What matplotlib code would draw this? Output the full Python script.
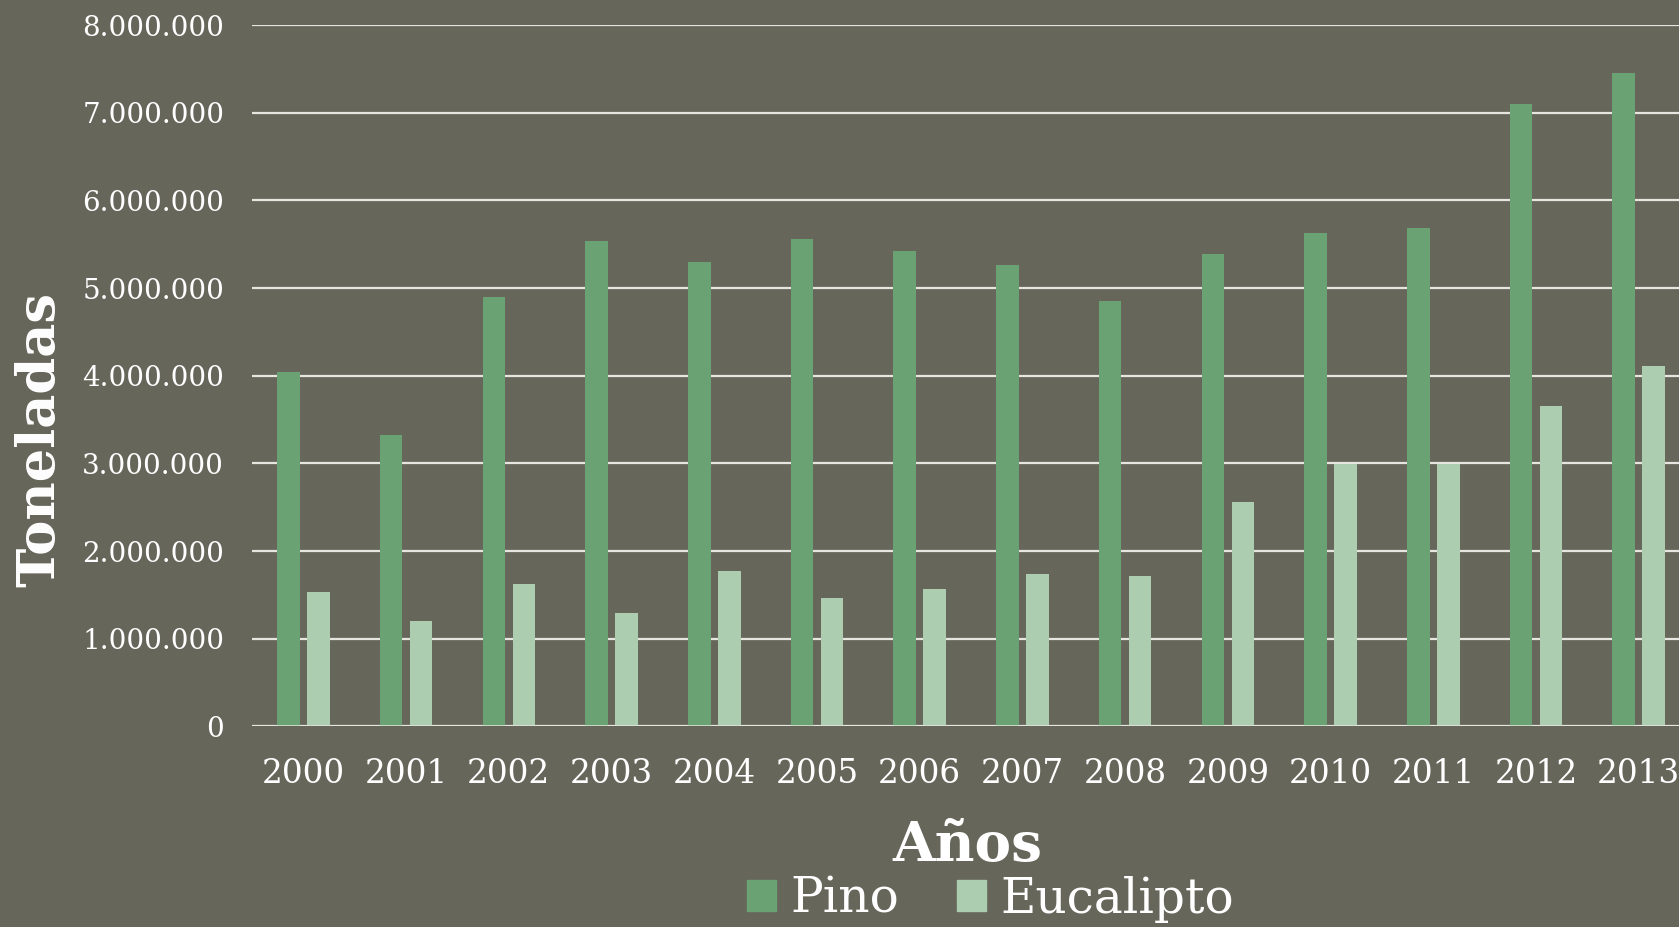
import matplotlib
matplotlib.use("Agg")
import matplotlib.pyplot as plt
from matplotlib.ticker import FuncFormatter, MultipleLocator
from matplotlib.patches import Patch
import numpy as np

anios = ["2000", "2001", "2002", "2003", "2004", "2005", "2006",
         "2007", "2008", "2009", "2010", "2011", "2012", "2013"]
pino = [4040000, 3320000, 4900000, 5540000, 5300000, 5560000, 5420000,
        5260000, 4850000, 5390000, 5630000, 5680000, 7100000, 7450000]
eucalipto = [1530000, 1200000, 1630000, 1300000, 1770000, 1460000, 1570000,
             1740000, 1720000, 2560000, 2990000, 2990000, 3650000, 4110000]

bg = "#66665a"
c_pino = "#6ba274"
c_euca = "#adcdb1"
txt = "white"

plt.rcParams['font.family'] = ['DejaVu Serif']

fig = plt.figure(figsize=(16.79, 9.27), dpi=100, facecolor=bg)
# axes runs off the right edge like the original crop
ax = fig.add_axes([0.1501, 0.2163, 0.8565, 0.7567], facecolor=bg)

x = np.arange(len(anios))
w = 0.22
ax.bar(x - 0.146, pino, w, color=c_pino, zorder=3)
ax.bar(x + 0.146, eucalipto, w, color=c_euca, zorder=3)

ax.set_xlim(-0.5, len(anios) - 0.5)
ax.set_ylim(0, 8000000)
ax.yaxis.set_major_locator(MultipleLocator(1000000))
ax.yaxis.set_major_formatter(FuncFormatter(lambda v, p: f"{int(v):,}".replace(",", ".")))
ax.grid(axis="y", color="#e6e6e0", linewidth=1.6, zorder=1)
ax.set_axisbelow(True)
for s in ["top", "right", "left", "bottom"]:
    ax.spines[s].set_visible(False)
ax.axhline(0, color="#e6e6e0", linewidth=1.8, zorder=4)

ax.set_xticks(x)
ax.set_xticklabels(anios)
ax.tick_params(axis="x", length=0, pad=23, labelsize=23.5, colors=txt)
ax.tick_params(axis="y", length=0, pad=20, labelsize=20, colors=txt)

fig.text(0.024, 0.526, "Toneladas", rotation=90, ha="center", va="center",
         fontsize=38, fontweight="bold", color=txt)
fig.text(0.576, 0.087, "Años", ha="center", va="center",
         fontsize=39.5, fontweight="bold", color=txt)

handles = [Patch(color=c_pino, label="Pino"), Patch(color=c_euca, label="Eucalipto")]
leg = fig.legend(handles=handles, loc="center", bbox_to_anchor=(0.59, 0.03),
                 ncol=2, frameon=False, fontsize=35, handlelength=0.6,
                 handleheight=0.6, handletextpad=0.3, columnspacing=1.17)
for t in leg.get_texts():
    t.set_color(txt)

fig.savefig("out.png", dpi=100, facecolor=bg)
